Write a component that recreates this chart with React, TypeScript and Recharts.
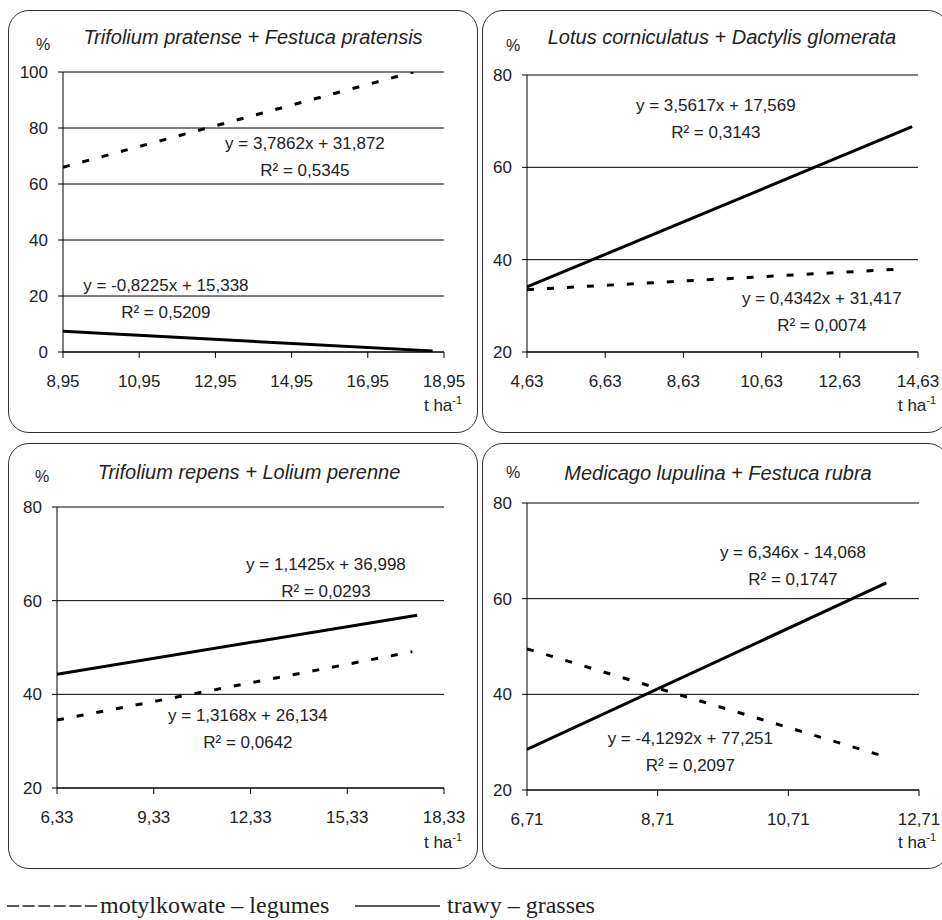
import React from 'react';
import { LineChart, Line, XAxis, YAxis, CartesianGrid, ReferenceDot } from 'recharts';

// ---------- Panel 1: Trifolium pratense + Festuca pratensis ----------
const p1Title = 'Trifolium pratense + Festuca pratensis';
const p1XTicks = [8.95, 10.95, 12.95, 14.95, 16.95, 18.95];
const p1YTicks = [0, 20, 40, 60, 80, 100];
const p1LegumesX = [8.95, 18.15];
const p1LegumesY = [66, 100];
const p1GrassesX = [8.95, 18.65];
const p1GrassesY = [7.4, 0.4];
const p1LegumesEq = ['y = 3,7862x + 31,872', 'R² = 0,5345'];
const p1LegumesEqAt = [15.3, 74.6];
const p1GrassesEq = ['y = -0,8225x + 15,338', 'R² = 0,5209'];
const p1GrassesEqAt = [11.65, 23.9];

// ---------- Panel 2: Lotus corniculatus + Dactylis glomerata ----------
const p2Title = 'Lotus corniculatus + Dactylis glomerata';
const p2XTicks = [4.63, 6.63, 8.63, 10.63, 12.63, 14.63];
const p2YTicks = [20, 40, 60, 80];
const p2LegumesX = [4.63, 14.25];
const p2LegumesY = [33.5, 38.0];
const p2GrassesX = [4.63, 14.48];
const p2GrassesY = [34.1, 68.8];
const p2LegumesEq = ['y = 0,4342x + 31,417', 'R² = 0,0074'];
const p2LegumesEqAt = [12.17, 31.7];
const p2GrassesEq = ['y = 3,5617x + 17,569', 'R² = 0,3143'];
const p2GrassesEqAt = [9.46, 73.5];

// ---------- Panel 3: Trifolium repens + Lolium perenne ----------
const p3Title = 'Trifolium repens + Lolium perenne';
const p3XTicks = [6.33, 9.33, 12.33, 15.33, 18.33];
const p3YTicks = [20, 40, 60, 80];
const p3LegumesX = [6.33, 17.35];
const p3LegumesY = [34.5, 49.1];
const p3GrassesX = [6.33, 17.5];
const p3GrassesY = [44.3, 56.9];
const p3LegumesEq = ['y = 1,3168x + 26,134', 'R² = 0,0642'];
const p3LegumesEqAt = [12.25, 35.6];
const p3GrassesEq = ['y = 1,1425x + 36,998', 'R² = 0,0293'];
const p3GrassesEqAt = [14.67, 67.8];

// ---------- Panel 4: Medicago lupulina + Festuca rubra ----------
const p4Title = 'Medicago lupulina + Festuca rubra';
const p4XTicks = [6.71, 8.71, 10.71, 12.71];
const p4YTicks = [20, 40, 60, 80];
const p4LegumesX = [6.71, 12.21];
const p4LegumesY = [49.5, 26.9];
const p4GrassesX = [6.71, 12.21];
const p4GrassesY = [28.5, 63.3];
const p4LegumesEq = ['y = -4,1292x + 77,251', 'R² = 0,2097'];
const p4LegumesEqAt = [9.21, 30.9];
const p4GrassesEq = ['y = 6,346x - 14,068', 'R² = 0,1747'];
const p4GrassesEqAt = [10.78, 69.8];

// ---------- Legend ----------
const legendLegumes = 'motylkowate – legumes';
const legendGrasses = 'trawy – grasses';
const yUnit = '%';
const xUnit = 't ha';
const xUnitSup = '-1';

const SANS = '"Liberation Sans", Arial, sans-serif';
const SERIF = '"Liberation Serif", "Times New Roman", serif';
const TXT = '#222';

const zip = (xs: number[], ys: number[]) => xs.map((x, i) => ({ x, y: ys[i] }));
const fmt = (v: number) => v.toFixed(2).replace('.', ',');

type PanelCfg = {
  title: string;
  xTicks: number[];
  yTicks: number[];
  legumes: { x: number; y: number }[];
  grasses: { x: number; y: number }[];
  eqs: { at: number[]; lines: string[] }[];
  box: { left: number; top: number; width: number; height: number };
  plot: { left: number; top: number; right: number; bottom: number };
  titleAt: number[];
  pctAt: number[];
  unitAt: number[];
};

const panels: PanelCfg[] = [
  {
    title: p1Title,
    xTicks: p1XTicks,
    yTicks: p1YTicks,
    legumes: zip(p1LegumesX, p1LegumesY),
    grasses: zip(p1GrassesX, p1GrassesY),
    eqs: [
      { at: p1LegumesEqAt, lines: p1LegumesEq },
      { at: p1GrassesEqAt, lines: p1GrassesEq },
    ],
    box: { left: 8, top: 10, width: 470, height: 423 },
    plot: { left: 63, top: 72, right: 444, bottom: 352 },
    titleAt: [253, 37],
    pctAt: [43, 45],
    unitAt: [443, 405],
  },
  {
    title: p2Title,
    xTicks: p2XTicks,
    yTicks: p2YTicks,
    legumes: zip(p2LegumesX, p2LegumesY),
    grasses: zip(p2GrassesX, p2GrassesY),
    eqs: [
      { at: p2LegumesEqAt, lines: p2LegumesEq },
      { at: p2GrassesEqAt, lines: p2GrassesEq },
    ],
    box: { left: 482, top: 10, width: 467, height: 423 },
    plot: { left: 527, top: 75, right: 918, bottom: 352 },
    titleAt: [722, 37],
    pctAt: [513, 46],
    unitAt: [917, 405],
  },
  {
    title: p3Title,
    xTicks: p3XTicks,
    yTicks: p3YTicks,
    legumes: zip(p3LegumesX, p3LegumesY),
    grasses: zip(p3GrassesX, p3GrassesY),
    eqs: [
      { at: p3LegumesEqAt, lines: p3LegumesEq },
      { at: p3GrassesEqAt, lines: p3GrassesEq },
    ],
    box: { left: 8, top: 443, width: 470, height: 426 },
    plot: { left: 57, top: 507, right: 444, bottom: 788 },
    titleAt: [249, 472],
    pctAt: [42, 477],
    unitAt: [443, 842],
  },
  {
    title: p4Title,
    xTicks: p4XTicks,
    yTicks: p4YTicks,
    legumes: zip(p4LegumesX, p4LegumesY),
    grasses: zip(p4GrassesX, p4GrassesY),
    eqs: [
      { at: p4LegumesEqAt, lines: p4LegumesEq },
      { at: p4GrassesEqAt, lines: p4GrassesEq },
    ],
    box: { left: 482, top: 443, width: 467, height: 426 },
    plot: { left: 527, top: 503, right: 919, bottom: 790 },
    titleAt: [718, 473],
    pctAt: [513, 473],
    unitAt: [917, 842],
  },
];

const eqShape = (lines: string[]) => (props: any) => (
  <g>
    <text
      x={props.cx}
      y={props.cy}
      dy="0.35em"
      textAnchor="middle"
      fill={TXT}
      fontSize={17}
      fontFamily={SANS}
    >
      {lines[0]}
    </text>
    <text
      x={props.cx}
      y={props.cy + 27}
      dy="0.35em"
      textAnchor="middle"
      fill={TXT}
      fontSize={17}
      fontFamily={SANS}
    >
      {lines[1]}
    </text>
  </g>
);

const centered = (x: number, y: number): React.CSSProperties => ({
  position: 'absolute',
  left: x,
  top: y,
  transform: 'translate(-50%, -50%)',
  whiteSpace: 'nowrap',
  lineHeight: 1,
  color: TXT,
  fontFamily: SANS,
});

function Panel({ cfg }: { cfg: PanelCfg }) {
  const { box, plot } = cfg;
  const yAxisWidth = plot.left - box.left;
  const xAxisHeight = box.top + box.height - plot.bottom;
  const marginTop = plot.top - box.top;
  const marginRight = box.left + box.width - plot.right;
  const xMin = cfg.xTicks[0];
  const xMax = cfg.xTicks[cfg.xTicks.length - 1];
  const yMin = cfg.yTicks[0];
  const yMax = cfg.yTicks[cfg.yTicks.length - 1];
  return (
    <>
      <div
        style={{
          position: 'absolute',
          left: box.left,
          top: box.top,
          width: box.width,
          height: box.height,
          border: '1px solid #333',
          borderRadius: 21,
          boxSizing: 'border-box',
        }}
      />
      <div style={{ position: 'absolute', left: box.left, top: box.top }}>
        <LineChart
          width={box.width}
          height={box.height}
          margin={{ top: marginTop, right: marginRight, bottom: 0, left: 0 }}
        >
          <CartesianGrid vertical={false} stroke="#000" strokeWidth={1} />
          <XAxis
            dataKey="x"
            type="number"
            domain={[xMin, xMax]}
            allowDataOverflow
            ticks={cfg.xTicks}
            interval={0}
            tickFormatter={fmt}
            height={xAxisHeight}
            axisLine={{ stroke: '#000' }}
            tickLine={{ stroke: '#000' }}
            tickSize={6}
            tickMargin={17}
            tick={{ fill: TXT, fontSize: 17, fontFamily: SANS }}
          />
          <YAxis
            type="number"
            domain={[yMin, yMax]}
            allowDataOverflow
            ticks={cfg.yTicks}
            interval={0}
            width={yAxisWidth}
            axisLine={{ stroke: '#000' }}
            tickLine={{ stroke: '#000' }}
            tickSize={5}
            tickMargin={10}
            tick={{ fill: TXT, fontSize: 17, fontFamily: SANS }}
          />
          <Line
            data={cfg.legumes}
            dataKey="y"
            stroke="#000"
            strokeWidth={3}
            strokeDasharray="7 13"
            dot={false}
            activeDot={false}
            isAnimationActive={false}
          />
          <Line
            data={cfg.grasses}
            dataKey="y"
            stroke="#000"
            strokeWidth={3}
            dot={false}
            activeDot={false}
            isAnimationActive={false}
          />
          {cfg.eqs.map((e, i) => (
            <ReferenceDot
              key={i}
              x={e.at[0]}
              y={e.at[1]}
              r={0}
              ifOverflow="visible"
              shape={eqShape(e.lines)}
            />
          ))}
        </LineChart>
      </div>
      <div style={{ ...centered(cfg.titleAt[0], cfg.titleAt[1]), fontSize: 20, fontStyle: 'italic' }}>
        {cfg.title}
      </div>
      <div style={{ ...centered(cfg.pctAt[0], cfg.pctAt[1]), fontSize: 16 }}>{yUnit}</div>
      <div style={{ ...centered(cfg.unitAt[0], cfg.unitAt[1]), fontSize: 17 }}>
        {xUnit}
        <span style={{ fontSize: 11, position: 'relative', top: -7 }}>{xUnitSup}</span>
      </div>
    </>
  );
}

export default function App() {
  return (
    <div
      style={{
        position: 'absolute',
        left: 0,
        top: 0,
        width: 942,
        height: 920,
        background: '#fff',
        overflow: 'hidden',
      }}
    >
      {panels.map((p, i) => (
        <Panel key={i} cfg={p} />
      ))}
      <svg
        width={942}
        height={40}
        style={{ position: 'absolute', left: 0, top: 880 }}
      >
        <line x1={7} x2={97} y1={26} y2={26} stroke={TXT} strokeWidth={1.3} strokeDasharray="12 3.6" />
        <text x={100} y={33} fontFamily={SERIF} fontSize={24} fill={TXT}>
          {legendLegumes}
        </text>
        <line x1={355} x2={440} y1={26} y2={26} stroke={TXT} strokeWidth={1.3} />
        <text x={447} y={33} fontFamily={SERIF} fontSize={24} fill={TXT}>
          {legendGrasses}
        </text>
      </svg>
    </div>
  );
}
